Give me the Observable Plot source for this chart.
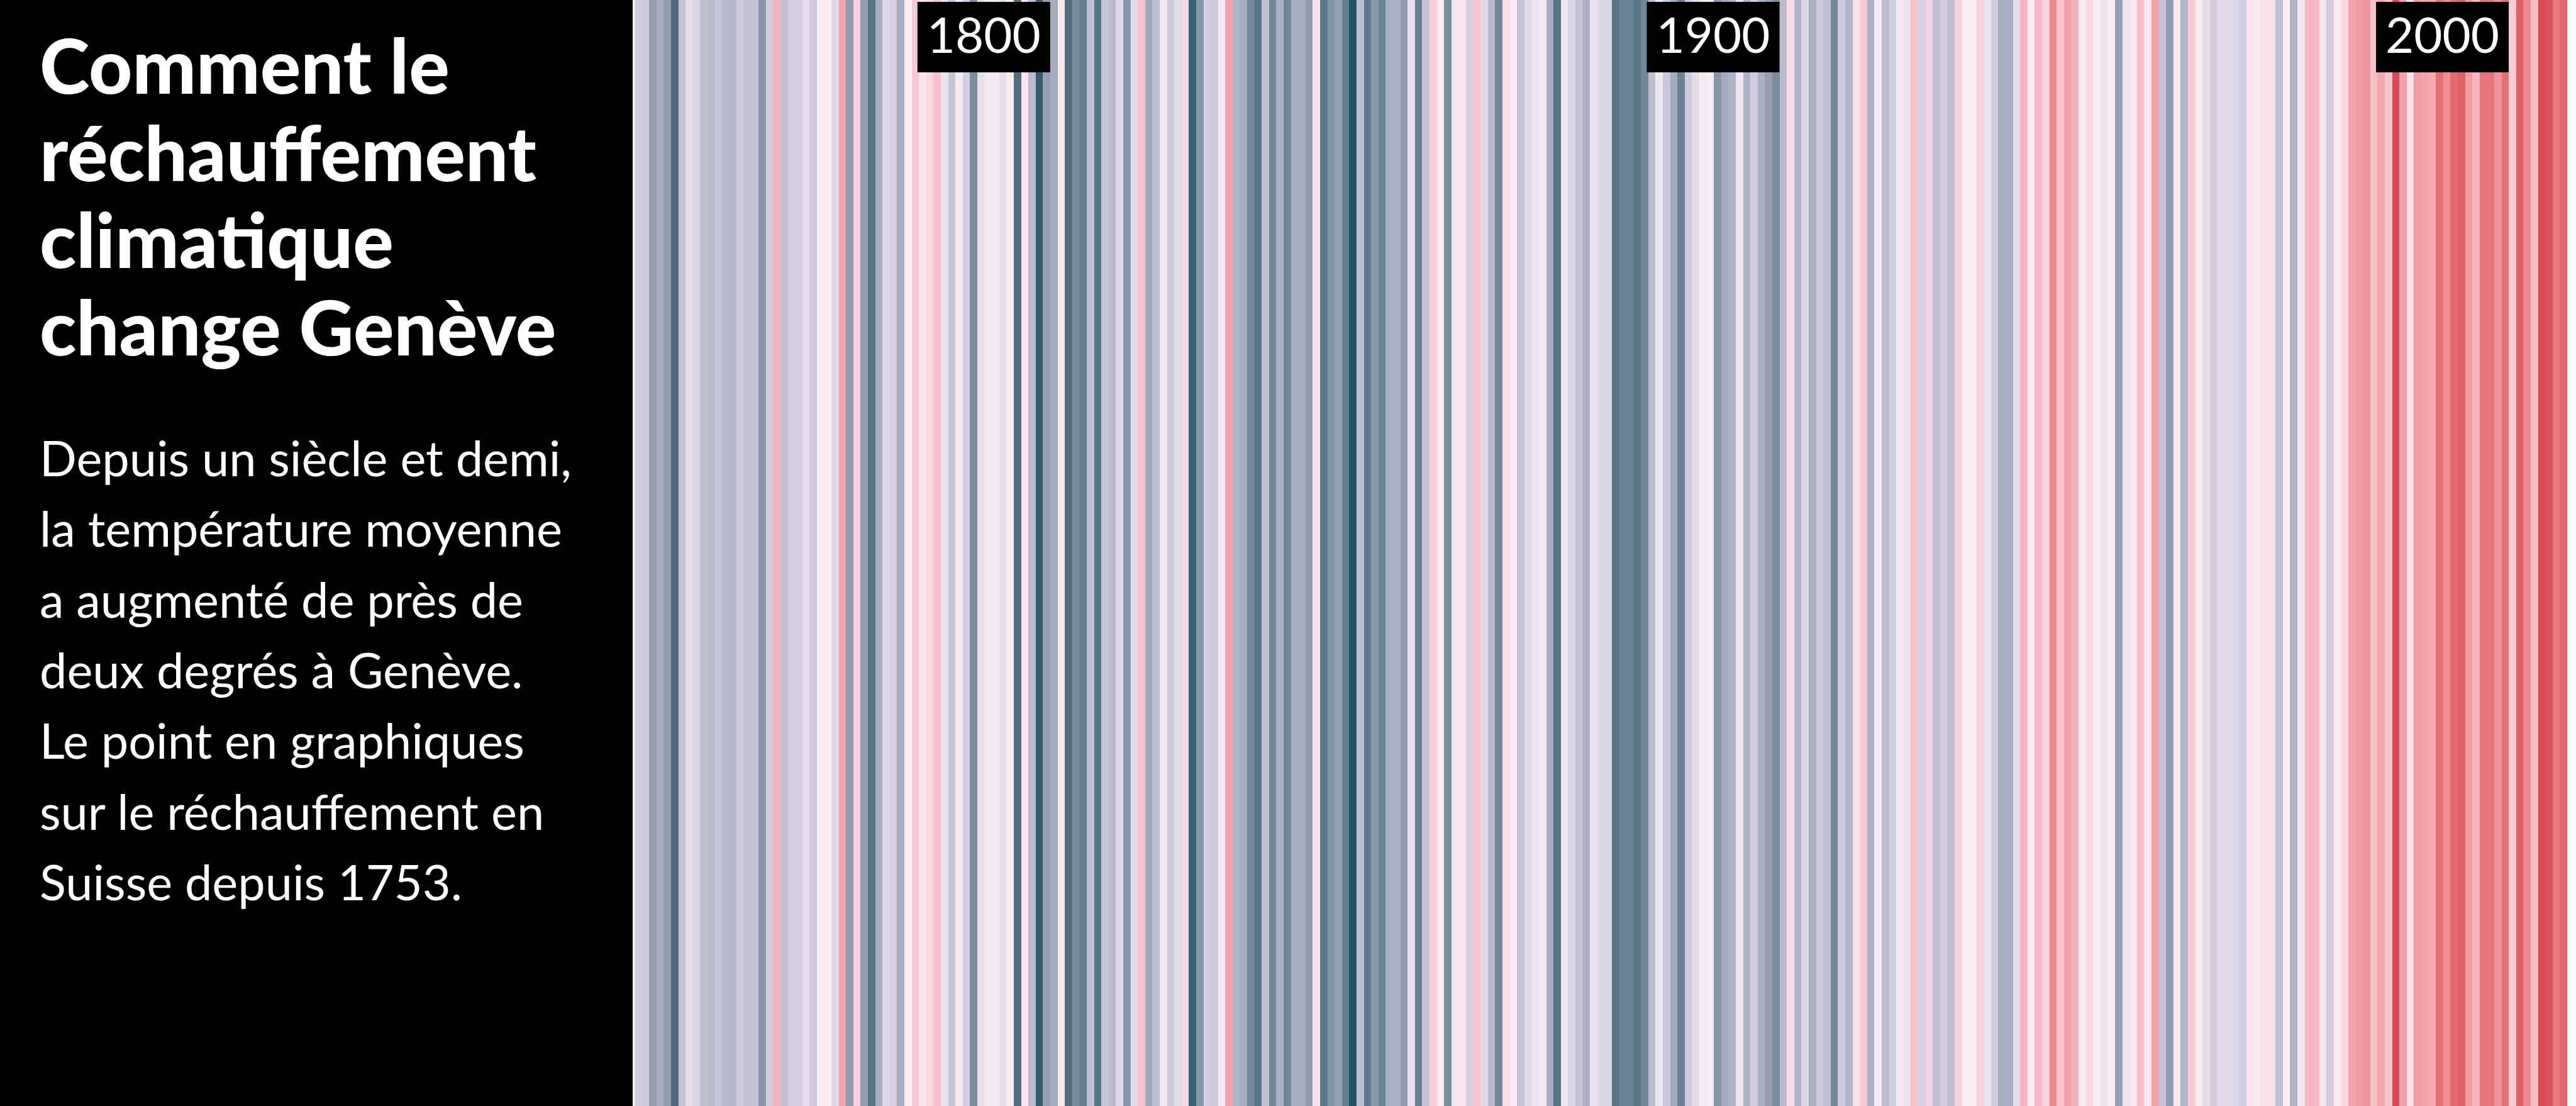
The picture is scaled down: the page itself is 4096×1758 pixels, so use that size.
<!DOCTYPE html>
<html lang="fr">
<head>
<meta charset="utf-8">
<script src="https://cdn.jsdelivr.net/npm/d3@7"></script>
<script src="https://cdn.jsdelivr.net/npm/@observablehq/plot@0.6"></script>
<style>
  html, body { margin: 0; padding: 0; background: #ffffff; overflow: hidden; }
  #wrap { position: relative; width: 4096px; height: 1758px; overflow: hidden; background: #ffffff; }
  #wrap > svg { position: absolute; left: 0; top: 0; }
</style>
</head>
<body>
<div id="wrap"></div>
<script>
// ---------- DATA ----------
const firstYear = 1753;
const lastYear = 2017;
// temperature anomaly per year (°C, relative), read from the stripes
const anomalies = [
  -0.4, -0.5, -1.4, -1.1, -1.5, -2.45, -0.6, -0.1, -0.3, -0.7,
  -0.8, -0.6, -0.85, -0.9, -0.5, -0.6, -0.6, -1.6, -0.4, 1.1,
  -0.7, -0.4, -0.4, -0.1, -0.5, 0.3, 0.3, -0.2, 1.3, -1.5,
  0.7, -1.5, -2.3, -1.1, -0.2, -0.4, -1.1, 0.3, 0.8, 0.4,
  0.6, 0.9, 0.0, -0.6, 0.2, -0.4, -1.8, -0.05, 0.2, 0.2,
  -0.1, 0.3, -2.4, 0.4, -0.8, -2.8, -1.4, -1.1, 0.4, -2.4,
  -1.8, -2.1, -0.7, -2.3, -0.6, -0.8, -0.2, -1.6, -0.15, 0.9,
  -1.2, -0.7, 0.15, -0.5, -0.15, 0.6, -2.7, -1.6, -0.4, -0.5,
  0.2, 1.3, -0.9, -1.1, -1.9, -2.3, -0.7, -1.9, -1.0, -1.9,
  -1.1, -1.1, -1.5, 0.1, -2.2, -1.7, -1.4, -2.1, -3.0, -0.75,
  -2.2, -1.6, -2.0, -1.0, -1.0, -1.5, -0.05, -2.0, -0.6, 0.7,
  0.25, -1.8, 0.1, 0.4, -0.35, 0.85, -0.2, -0.8, -1.9, 0.5,
  0.25, -0.65, -0.2, 0.0, 0.2, -1.05, -2.3, 0.1, -0.25, -0.65,
  -1.0, 0.0, -0.25, -0.25, -2.3, -2.0, -2.0, -2.3, -1.9, -0.75,
  0.1, -0.55, -1.15, -2.0, -0.5, -0.15, 0.2, 0.3, -1.6, -1.15,
  -0.95, 0.1, -0.95, -0.45, -1.0, -1.4, -1.8, -0.8, 0.5, -0.95,
  -0.25, -1.0, -0.5, -0.7, -1.9, -0.5, -0.9, 0.45, 0.8, -1.0,
  0.2, -0.75, -0.4, 0.2, 0.0, 0.9, -0.35, 0.65, -0.7, -0.45,
  -0.7, 0.65, 0.25, 0.25, 0.7, 0.0, -0.45, -1.05, -1.05, -0.1,
  1.1, 0.3, 1.0, 0.65, 1.6, 0.85, 1.35, 1.15, 0.25, 0.6,
  0.3, -0.05, 0.3, -1.4, 0.0, 0.2, 0.95, 0.35, 1.35, -0.6,
  -1.5, 0.35, -0.9, 0.75, 0.25, -0.1, -0.45, -0.2, -0.2, -0.25,
  -0.45, 0.4, 0.25, 0.45, 0.45, -0.7, 0.25, -0.95, 0.15, 1.05,
  1.0, 0.15, -0.45, 0.35, 0.6, 1.3, 1.4, 1.5, 0.9, 1.25,
  0.85, 2.2, 1.35, 0.45, 1.4, 1.3, 1.2, 1.85, 1.55, 1.9,
  2.0, 1.4, 1.05, 1.8, 1.8, 1.5, 1.85, 0.75, 2.0, 1.6,
  0.95, 2.2, 2.15, 1.75, 1.95
];
const labelYears = [1800, 1900, 2000];
const colorStops = [-3, -2.5, -2, -1.5, -1, -0.5, 0, 0.3, 0.7, 1.1, 1.5, 1.9, 2.3];
const colorRange = ["#235365", "#4a6b7c", "#6a8393", "#8f9dad", "#abb1c3", "#cdcadc",
                    "#ebe3ee", "#fbecf2", "#f9d0db", "#f6b3bc", "#f0939b", "#e46b70", "#d13f4d"];
const titleLines = ["Comment le", "réchauffement", "climatique", "change Genève"];
const bodyLines = [
  "Depuis un siècle et demi,",
  "la température moyenne",
  "a augmenté de près de",
  "deux degrés à Genève.",
  "Le point en graphiques",
  "sur le réchauffement en",
  "Suisse depuis 1753."
];

// ---------- BUILD ----------
const years = d3.range(firstYear, lastYear + 1);
const table = years.map((year, i) => ({year, value: anomalies[i]}));

const W = 4096, H = 1758;
const panelW = 1006;

const chart = Plot.plot({
  width: W,
  height: H,
  marginLeft: 1009,
  marginRight: 14,
  marginTop: 0,
  marginBottom: 0,
  style: {background: "transparent"},
  x: {type: "band", domain: years, padding: 0, axis: null},
  color: {type: "linear", domain: colorStops, range: colorRange},
  marks: [
    Plot.cell(table, {x: "year", fill: "value", shapeRendering: "crispEdges"}),
    Plot.ruleX(labelYears, {x: d => d, dx: 4, stroke: "#000", strokeWidth: 211, insetTop: 3, insetBottom: H - 115}),
    Plot.text(labelYears, {
      x: d => d, dx: 4, text: d => String(d), frameAnchor: "top", lineAnchor: "bottom", dy: 83,
      fill: "#fff", fontSize: 78, fontFamily: "Lato, sans-serif", fontWeight: 400
    })
  ]
});

const wrap = document.getElementById("wrap");
wrap.appendChild(chart);

// text panel
const ctx = document.createElement("canvas").getContext("2d");
function fitSize(lines, weight, targets) {
  ctx.font = `${weight} 100px Lato`;
  const w = d3.sum(lines, l => ctx.measureText(l).width);
  return 100 * d3.sum(targets) / w;
}
const titleSize = fitSize(titleLines, 900, [648, 786, 564, 828]);
const bodySize = fitSize(bodyLines, 400, [838, 836, 781, 784, 781, 802, 640]);

const panel = d3.select(wrap).append("svg")
  .attr("width", panelW).attr("height", H)
  .attr("viewBox", `0 0 ${panelW} ${H}`);
panel.append("rect").attr("width", panelW).attr("height", H).attr("fill", "#000");

panel.append("g").selectAll("text").data(titleLines).join("text")
  .attr("x", 63)
  .attr("y", (d, i) => 149 + i * 138.5)
  .attr("fill", "#fff")
  .attr("font-family", "Lato, sans-serif")
  .attr("font-weight", 900)
  .attr("font-size", titleSize)
  .text(d => d);

panel.append("g").selectAll("text").data(bodyLines).join("text")
  .attr("x", 63)
  .attr("y", (d, i) => 757 + i * 112.3)
  .attr("fill", "#fff")
  .attr("font-family", "Lato, sans-serif")
  .attr("font-weight", 400)
  .attr("font-size", bodySize)
  .text(d => d);
</script>
</body>
</html>
